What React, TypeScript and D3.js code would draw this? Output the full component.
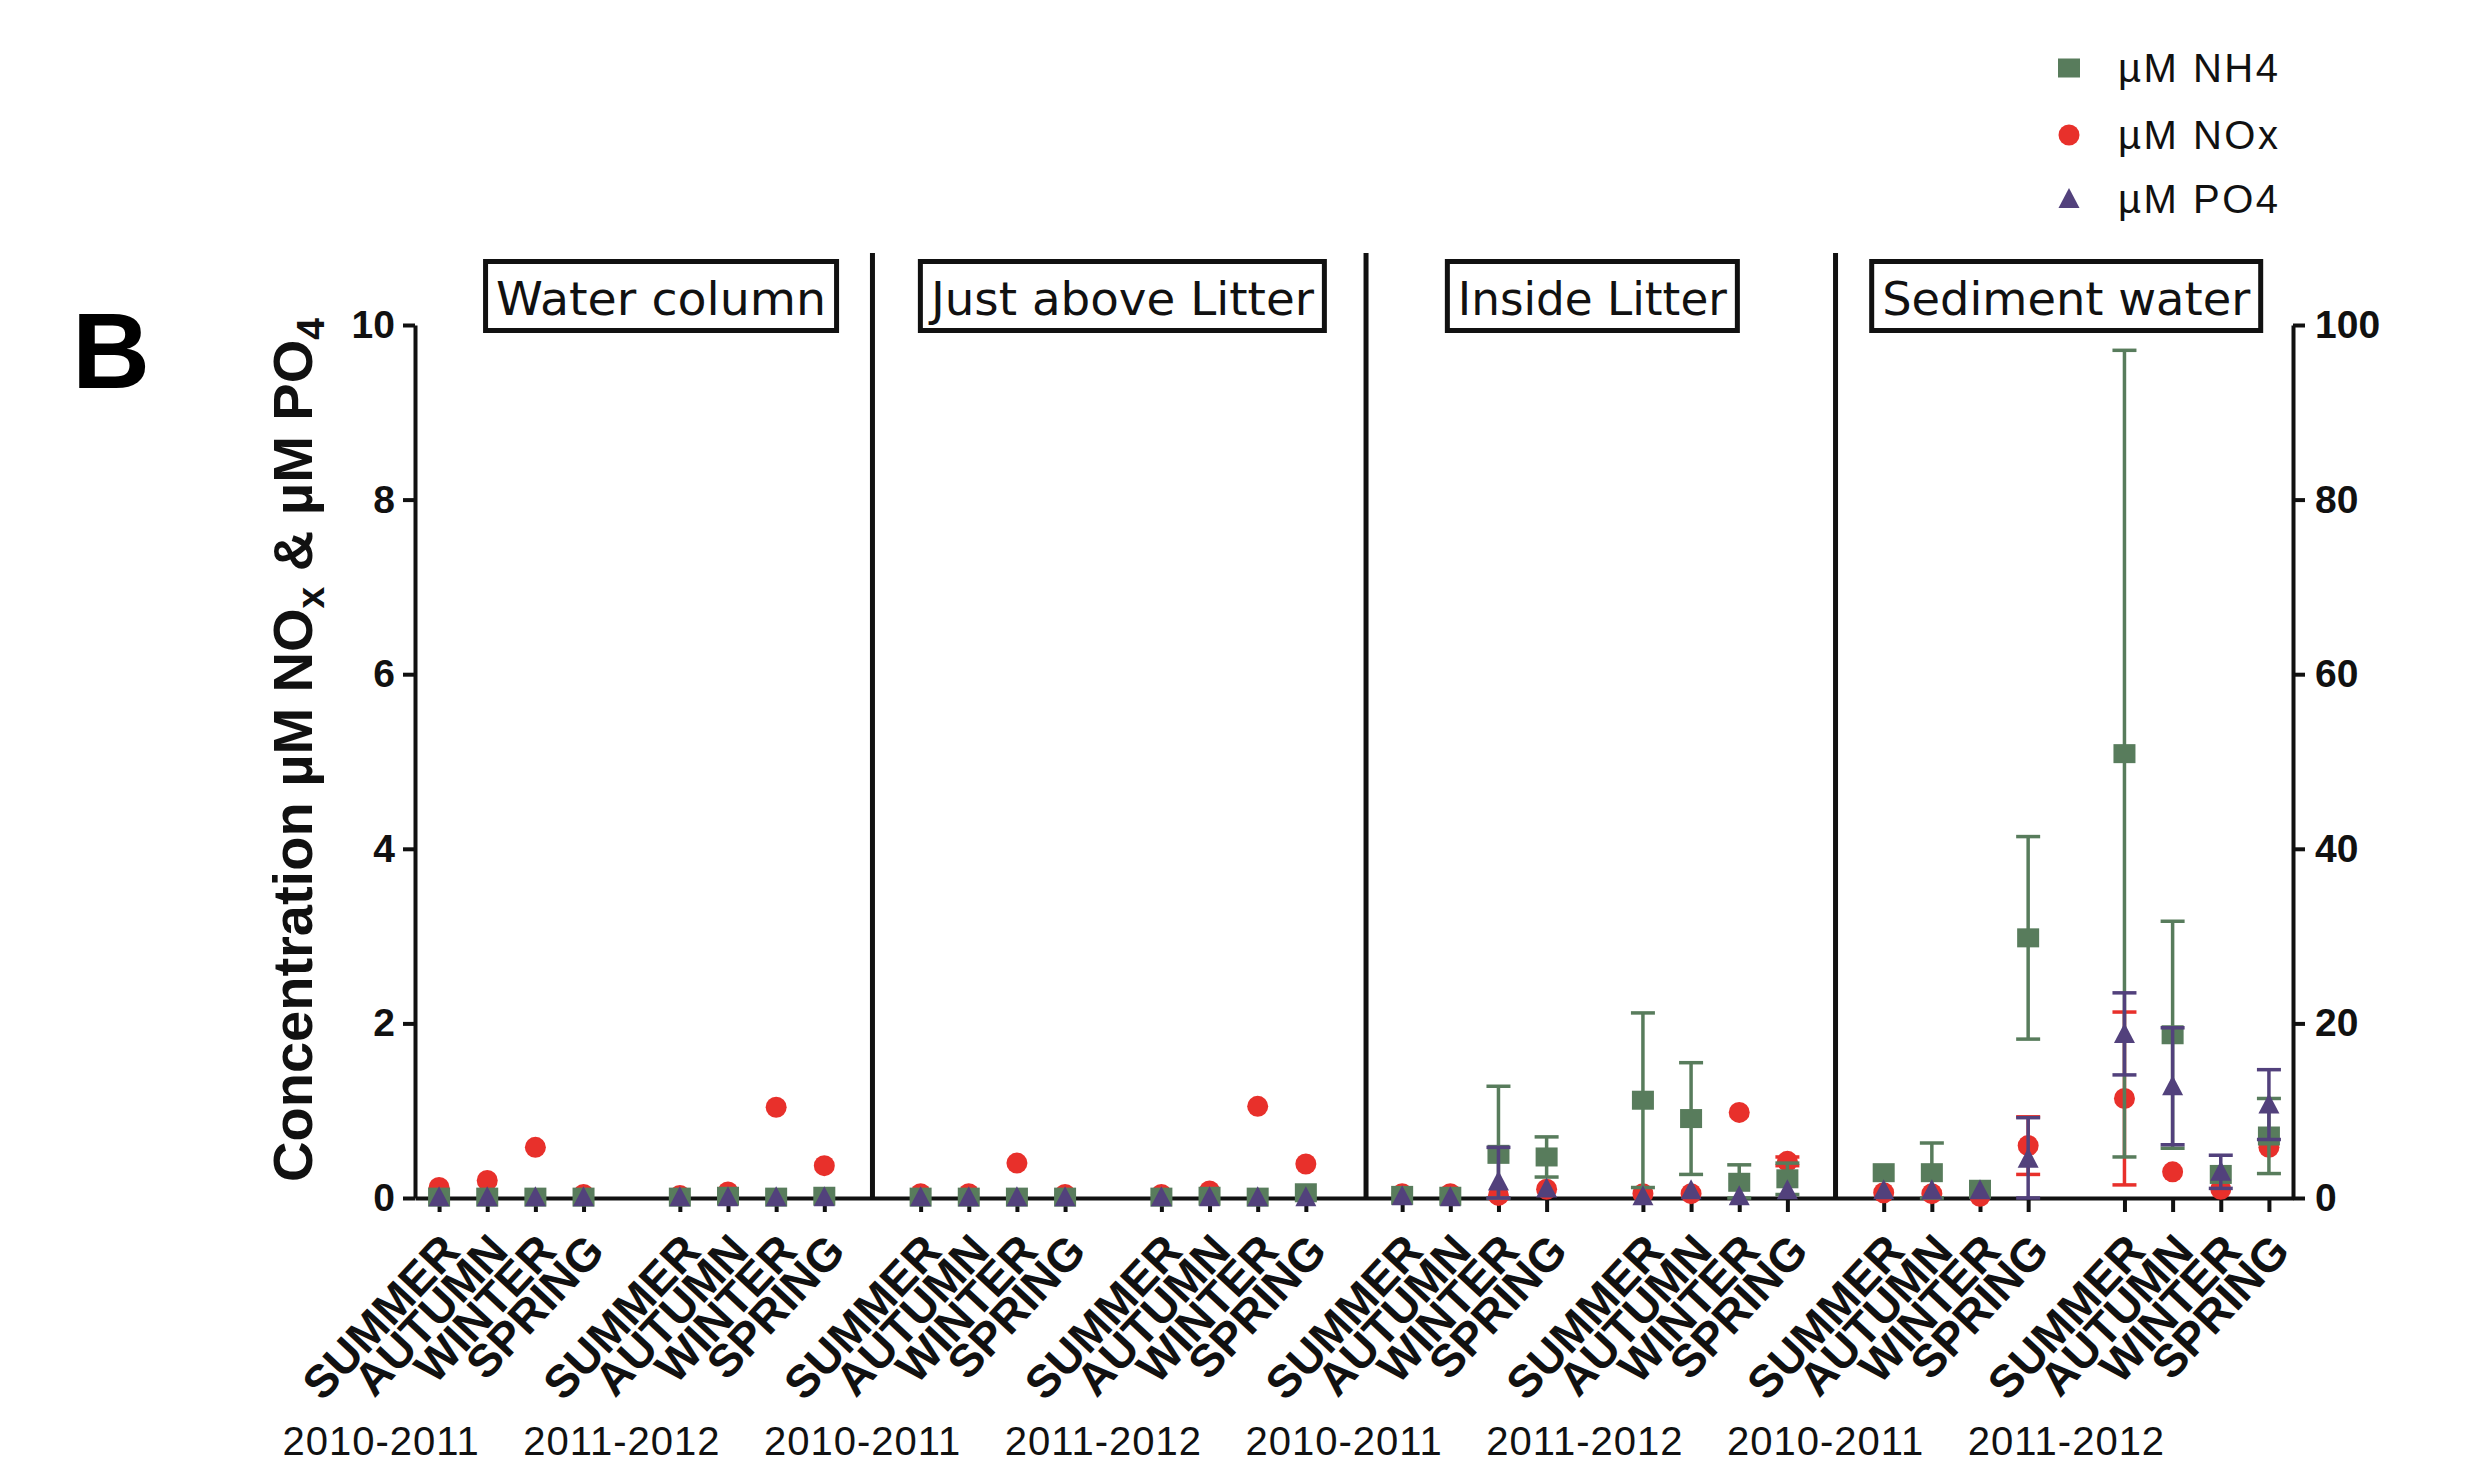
import React, { useEffect, useRef } from "react"
import * as d3 from "d3"

const panels = ["Water column", "Just above Litter", "Inside Litter", "Sediment water"]
const years = ["2010-2011", "2011-2012"]
const seasons = ["SUMMER", "AUTUMN", "WINTER", "SPRING"]

// order: panel > year > season (32 groups)
// µM NH4, read on the right axis
const nh4 = [
  0.1, 0.1, 0.1, 0.1, 0.1, 0.2, 0.1, 0.2,
  0.1, 0.1, 0.1, 0.1, 0.1, 0.2, 0.1, 0.6,
  0.3, 0.2, 5.0, 4.7, 11.2, 9.1, 1.8, 2.2,
  2.9, 2.9, 1.0, 29.8, 50.9, 18.7, 2.7, 7.1,
]
const nh4Sd = [
  0, 0, 0, 0, 0, 0, 0, 0,
  0, 0, 0, 0, 0, 0, 0, 0,
  0, 0, 7.8, 2.3, 10.0, 6.4, 2.0, 1.8,
  0, 3.4, 0, 11.6, 46.2, 13.0, 0, 4.3,
]
// µM NOx, left axis
const nox = [
  0.12, 0.2, 0.58, 0.04, 0.03, 0.07, 1.04, 0.37,
  0.05, 0.05, 0.4, 0.04, 0.04, 0.08, 1.05, 0.39,
  0.05, 0.05, 0.03, 0.1, 0.05, 0.05, 0.98, 0.42,
  0.06, 0.05, 0.02, 0.6, 1.14, 0.3, 0.1, 0.58,
]
const noxSd = [
  0, 0, 0, 0, 0, 0, 0, 0,
  0, 0, 0, 0, 0, 0, 0, 0,
  0, 0, 0, 0, 0, 0, 0, 0.05,
  0, 0, 0, 0.33, 0.99, 0, 0, 0,
]
// µM PO4, left axis
const po4 = [
  0.01, 0.01, 0.01, 0.01, 0.01, 0.01, 0.01, 0.01,
  0.01, 0.01, 0.01, 0.01, 0.01, 0.01, 0.01, 0.01,
  0.02, 0.01, 0.19, 0.11, 0.02, 0.09, 0.02, 0.09,
  0.09, 0.09, 0.09, 0.45, 1.88, 1.28, 0.3, 1.07,
]
const po4Sd = [
  0, 0, 0, 0, 0, 0, 0, 0,
  0, 0, 0, 0, 0, 0, 0, 0,
  0, 0, 0.39, 0, 0, 0, 0, 0,
  0, 0, 0, 0.47, 0.47, 0.67, 0.19, 0.4,
]

const leftTicks = [0, 2, 4, 6, 8, 10]
const rightTicks = [0, 20, 40, 60, 80, 100]
const legendLabels = ["µM NH4", "µM NOx", "µM PO4"]

const W = 2469
const H = 1464
const M = { left: 415, right: 2293, top: 325, bottom: 1198 }
const FONT = "'Liberation Sans', Arial, Helvetica, sans-serif"
const GREEN = "#587C5C"
const RED = "#E8302B"
const PURPLE = "#52417C"

// layout (slot units) for the separators and the title boxes
const sepSlots = [9, 19.25, 29]
const titleSlots = [4.61, 14.19, 23.95, 33.79]
const titleWidths = [356, 409, 295, 394]

const App = () => {
  const ref = useRef<SVGSVGElement>(null)

  useEffect(() => {
    const svg = d3.select(ref.current)
    svg.selectAll("*").remove()

    const x = d3.scaleLinear().domain([-0.5, 38.5]).range([M.left, M.right])
    const yL = d3.scaleLinear().domain([0, 10]).range([M.bottom, M.top])
    const yR = d3.scaleLinear().domain([0, 100]).range([M.bottom, M.top])

    const rows = nh4.map((_, i) => {
      const p = Math.floor(i / 8)
      const yr = Math.floor((i % 8) / 4)
      const s = i % 4
      return { i, p, yr, s, slot: p * 10 + yr * 5 + s }
    })

    const drawShape = (g, shape, color) => {
      if (shape === "square") {
        g.append("rect").attr("x", -11).attr("y", -9.5).attr("width", 22).attr("height", 19).attr("fill", color)
      } else if (shape === "circle") {
        g.append("circle").attr("r", 10.5).attr("fill", color)
      } else {
        g.append("path").attr("d", "M0,-11L10.5,9L-10.5,9Z").attr("fill", color)
      }
    }

    // panel separators
    svg
      .append("g")
      .selectAll("line")
      .data(sepSlots)
      .join("line")
      .attr("x1", (d) => x(d))
      .attr("x2", (d) => x(d))
      .attr("y1", 253)
      .attr("y2", M.bottom)
      .attr("stroke", "#111")
      .attr("stroke-width", 5)

    // axes
    const styleAxis = (g) => {
      g.attr("font-size", 39).attr("font-family", FONT).attr("font-weight", "bold")
      g.select(".domain").attr("stroke", "#111").attr("stroke-width", 4)
      g.selectAll(".tick line").attr("stroke", "#111").attr("stroke-width", 4)
      g.selectAll(".tick text").attr("fill", "#111")
    }

    svg
      .append("g")
      .attr("transform", `translate(0,${M.bottom})`)
      .call(
        d3
          .axisBottom(x)
          .tickValues(rows.map((r) => r.slot))
          .tickSize(14)
          .tickSizeOuter(0)
          .tickFormat(() => "")
      )
      .call(styleAxis)

    svg
      .append("g")
      .attr("transform", `translate(${M.left},0)`)
      .call(d3.axisLeft(yL).tickValues(leftTicks).tickSize(12).tickSizeOuter(0).tickPadding(8).tickFormat(d3.format("d")))
      .call(styleAxis)

    svg
      .append("g")
      .attr("transform", `translate(${M.right},0)`)
      .call(d3.axisRight(yR).tickValues(rightTicks).tickSize(12).tickSizeOuter(0).tickPadding(10).tickFormat(d3.format("d")))
      .call(styleAxis)

    // series: NOx first (behind), NH4, PO4 on top
    const series = [
      { vals: nox, sd: noxSd, y: yL, color: RED, shape: "circle" },
      { vals: nh4, sd: nh4Sd, y: yR, color: GREEN, shape: "square" },
      { vals: po4, sd: po4Sd, y: yL, color: PURPLE, shape: "triangle" },
    ]

    series.forEach((ser) => {
      const layer = svg.append("g")
      const withErr = rows.filter((r) => ser.sd[r.i] > 0)
      const bars = layer
        .selectAll("g.err")
        .data(withErr)
        .join("g")
        .attr("class", "err")
        .attr("stroke", ser.color)
        .attr("stroke-width", 3.5)
      const lo = (r) => ser.y(Math.max(0, ser.vals[r.i] - ser.sd[r.i]))
      const hi = (r) => ser.y(ser.vals[r.i] + ser.sd[r.i])
      bars
        .append("line")
        .attr("x1", (r) => x(r.slot))
        .attr("x2", (r) => x(r.slot))
        .attr("y1", lo)
        .attr("y2", hi)
      bars
        .append("line")
        .attr("x1", (r) => x(r.slot) - 12)
        .attr("x2", (r) => x(r.slot) + 12)
        .attr("y1", hi)
        .attr("y2", hi)
      bars
        .append("line")
        .attr("x1", (r) => x(r.slot) - 12)
        .attr("x2", (r) => x(r.slot) + 12)
        .attr("y1", lo)
        .attr("y2", lo)

      layer
        .selectAll("g.pt")
        .data(rows)
        .join("g")
        .attr("class", "pt")
        .attr("transform", (r) => `translate(${x(r.slot)},${ser.y(ser.vals[r.i])})`)
        .each(function () {
          drawShape(d3.select(this), ser.shape, ser.color)
        })
    })

    // season labels
    svg
      .append("g")
      .selectAll("text")
      .data(rows)
      .join("text")
      .attr("transform", (r) => `translate(${x(r.slot) + 23},1253) rotate(-47)`)
      .attr("text-anchor", "end")
      .attr("font-family", FONT)
      .attr("font-weight", "bold")
      .attr("font-size", 46)
      .attr("fill", "#111")
      .text((r) => seasons[r.s])

    // year labels
    const groups = d3.range(panels.length * years.length).map((k) => ({
      slot: Math.floor(k / 2) * 10 + (k % 2) * 5,
      label: years[k % 2],
    }))
    svg
      .append("g")
      .selectAll("text")
      .data(groups)
      .join("text")
      .attr("x", (d) => x(d.slot) - 58)
      .attr("y", 1455)
      .attr("text-anchor", "middle")
      .attr("font-family", FONT)
      .attr("font-size", 40)
      .attr("letter-spacing", 1)
      .attr("fill", "#111")
      .text((d) => d.label)

    // panel title boxes
    const titles = svg
      .append("g")
      .selectAll("g")
      .data(panels)
      .join("g")
      .attr("transform", (d, i) => `translate(${x(titleSlots[i])},0)`)
    titles
      .append("rect")
      .attr("x", (d, i) => -titleWidths[i] / 2 + 2.5)
      .attr("y", 261.5)
      .attr("width", (d, i) => titleWidths[i] - 5)
      .attr("height", 69)
      .attr("fill", "#fff")
      .attr("stroke", "#111")
      .attr("stroke-width", 5)
    titles
      .append("text")
      .attr("y", 315)
      .attr("text-anchor", "middle")
      .attr("font-family", "'DejaVu Sans', Verdana, sans-serif")
      .attr("font-size", 46)
      .attr("fill", "#111")
      .attr("textLength", (d, i) => titleWidths[i] - 26)
      .attr("lengthAdjust", "spacingAndGlyphs")
      .text((d) => d)

    // y axis title
    const yt = svg
      .append("text")
      .attr("transform", "translate(312,750) rotate(-90)")
      .attr("text-anchor", "middle")
      .attr("font-family", FONT)
      .attr("font-weight", "bold")
      .attr("font-size", 56)
      .attr("fill", "#111")
    yt.append("tspan").text("Concentration µM NO")
    yt.append("tspan").attr("dy", 12).attr("font-size", 39).text("x")
    yt.append("tspan").attr("dy", -12).text(" & µM PO")
    yt.append("tspan").attr("dy", 12).attr("font-size", 39).text("4")

    // panel letter
    svg
      .append("text")
      .attr("x", 72)
      .attr("y", 388)
      .attr("font-family", FONT)
      .attr("font-weight", "bold")
      .attr("font-size", 108)
      .attr("fill", "#000")
      .text("B")

    // legend
    const shapes = ["square", "circle", "triangle"]
    const colors = [GREEN, RED, PURPLE]
    const leg = svg
      .append("g")
      .selectAll("g")
      .data(legendLabels)
      .join("g")
      .attr("transform", (d, i) => `translate(2069,${[68, 135, 199][i]})`)
    leg.each(function (d, i) {
      drawShape(d3.select(this), shapes[i], colors[i])
    })
    leg
      .append("text")
      .attr("x", 49)
      .attr("y", 14)
      .attr("font-family", FONT)
      .attr("font-size", 40)
      .attr("letter-spacing", 2.5)
      .attr("fill", "#111")
      .text((d) => d)
  }, [])

  return (
    <svg
      ref={ref}
      width={W}
      height={H}
      style={{ position: "absolute", left: 0, top: 0, background: "#fff" }}
    ></svg>
  )
}

export default App
